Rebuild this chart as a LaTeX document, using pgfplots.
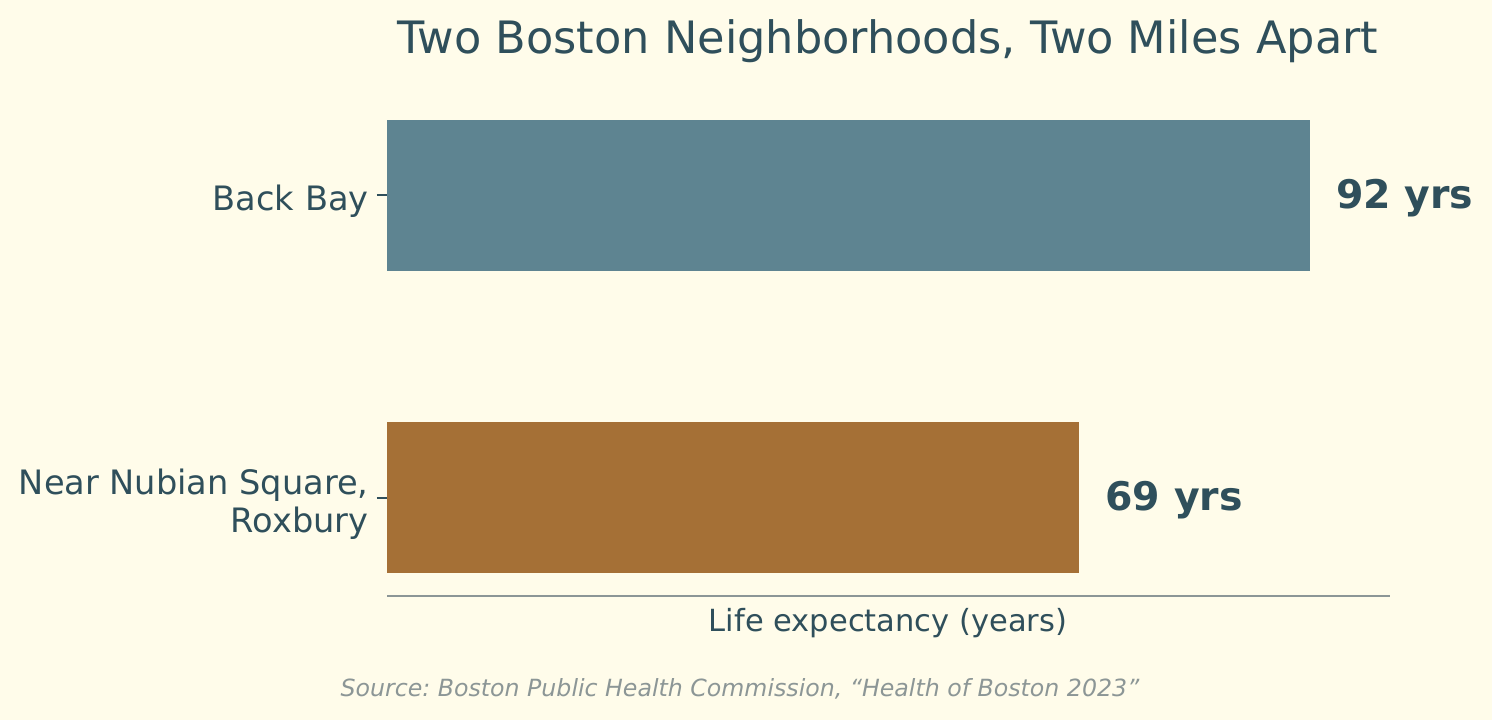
\documentclass[border=0pt]{standalone}
\usepackage{pgfplots}
\pgfplotsset{compat=1.18}
\usepackage{fontspec}
\setmainfont{DejaVu Sans}
\frenchspacing

\definecolor{bg}{HTML}{FFFCEA}
\definecolor{ink}{HTML}{2F4F5B}
\definecolor{slate}{HTML}{5E8491}
\definecolor{ochre}{HTML}{A57036}
\definecolor{spine}{HTML}{8C9696}

\begin{document}
\begin{tikzpicture}
  \fill[bg] (0,0) rectangle (716.16bp,345.6bp);
  \begin{axis}[
      at={(185.76bp,59.52bp)}, anchor=south west,
      scale only axis,
      width=481.44bp, height=239.52bp,
      xbar, bar width=0.5, bar shift=0pt,
      xmin=0, xmax=100,
      ymin=-0.325, ymax=1.325,
      y dir=reverse,
      axis x line*=bottom, axis y line*=left,
      axis line style={-},
      x axis line style={draw=spine, line width=1bp},
      y axis line style={draw=none},
      xtick=\empty,
      ytick={0,1},
      yticklabels={Back Bay,{Near Nubian Square,\\Roxbury}},
      yticklabel style={align=right, font=\fontsize{16.2}{18.2}\selectfont,
        text=ink, yshift=-3bp, xshift=-0.5bp},
      tick align=outside, tick pos=left,
      major tick length=4.8bp,
      every tick/.style={draw=ink, line width=0.8bp},
      /pgf/number format/assume math mode=true,
      point meta=x,
      nodes near coords={\pgfmathprintnumber\pgfplotspointmeta\ yrs},
      nodes near coords style={anchor=west, inner sep=0pt, xshift=12.5bp, yshift=-1.3bp,
        font=\fontsize{19}{22}\selectfont\bfseries, text=ink},
    ]
    \addplot[fill=slate, draw=none] coordinates {(92,0)};
    \addplot[fill=ochre, draw=none] coordinates {(69,1)};
  \end{axis}
  \node[anchor=base, text=ink, font=\fontsize{21.5}{26}\selectfont] at (426.24bp,319.68bp) {Two Boston Neighborhoods, Two Miles Apart};
  \node[anchor=base, text=ink, font=\fontsize{14.7}{18}\selectfont] at (426.24bp,42.24bp) {Life expectancy (years)};
  \node[anchor=base, text=spine, font=\fontsize{11.4}{14}\selectfont\itshape] at (355.2bp,11.52bp) {Source: Boston Public Health Commission, “Health of Boston 2023”};
  \pgfresetboundingbox
  \path (0,0) rectangle (716.16bp,345.6bp);
\end{tikzpicture}
\end{document}
